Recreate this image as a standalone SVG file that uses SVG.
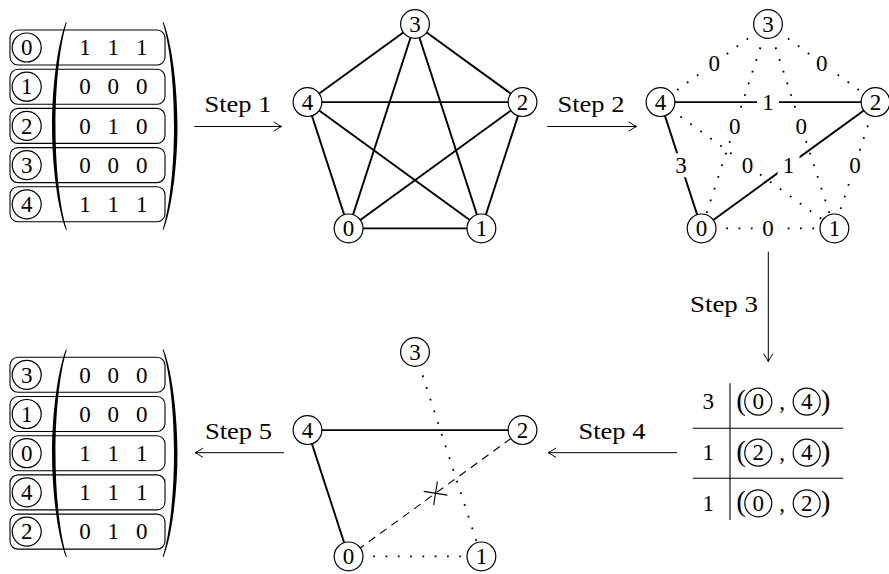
<svg xmlns="http://www.w3.org/2000/svg" width="889" height="574" viewBox="0 0 889 574">
<defs>
<style>
.t{font-family:"Liberation Serif","DejaVu Serif",serif;font-size:23px;text-anchor:middle;fill:#000}
.p{font-family:"Liberation Serif","DejaVu Serif",serif;font-size:29px;text-anchor:middle;fill:#000}
.n circle{fill:#fff;stroke:#000;stroke-width:1.2}
.row{fill:none;stroke:#000;stroke-width:1.1}
.e{stroke:#000;stroke-width:1.9;fill:none}
.d{stroke:#000;stroke-width:1.8;stroke-dasharray:1.8 10.5;fill:none}
.ds{stroke:#000;stroke-width:1.1;stroke-dasharray:8 6;fill:none}
.arr{stroke:#000;stroke-width:1;fill:none;marker-end:url(#to)}
.lb rect{fill:#fff;stroke:none}
.tl{stroke:#000;stroke-width:1.1}
.paren{fill:#000;stroke:none}
</style>
<marker id="to" viewBox="-10 -6 12 12" refX="0" refY="0" markerWidth="12" markerHeight="12" markerUnits="userSpaceOnUse" orient="auto">
<path d="M-8,-4.7 Q-2.5,-1 0,0 Q-2.5,1 -8,4.7" fill="none" stroke="#000" stroke-width="1"/>
</marker>
<path id="lparen" d="M66,-104 C57,-81 52,-36 52,0 C52,36 57,81 66,104 L66.8,103.5 C59,79 55.5,36 55.5,0 C55.5,-36 59,-79 66.8,-103.5 Z"/>
</defs>
<rect width="889" height="574" fill="#fff"/>

<!-- Matrix 1 -->
<g id="matrix1">
<use href="#lparen" class="paren" transform="translate(0,126)"/>
<use href="#lparen" class="paren" transform="translate(229.5,126) scale(-1,1)"/>
<g id="m1-r0" class="n"><rect class="row" x="10" y="30" width="155" height="35" rx="8"/><circle cx="26.7" cy="47.5" r="14.5"/><text class="t" x="26.7" y="55.2">0</text><text class="t" x="85" y="55.2">1</text><text class="t" x="113.3" y="55.2">1</text><text class="t" x="141.7" y="55.2">1</text></g>
<g id="m1-r1" class="n"><rect class="row" x="10" y="69.2" width="155" height="35" rx="8"/><circle cx="26.7" cy="86.7" r="14.5"/><text class="t" x="26.7" y="94.4">1</text><text class="t" x="85" y="94.4">0</text><text class="t" x="113.3" y="94.4">0</text><text class="t" x="141.7" y="94.4">0</text></g>
<g id="m1-r2" class="n"><rect class="row" x="10" y="108.4" width="155" height="35" rx="8"/><circle cx="26.7" cy="125.9" r="14.5"/><text class="t" x="26.7" y="133.6">2</text><text class="t" x="85" y="133.6">0</text><text class="t" x="113.3" y="133.6">1</text><text class="t" x="141.7" y="133.6">0</text></g>
<g id="m1-r3" class="n"><rect class="row" x="10" y="147.6" width="155" height="35" rx="8"/><circle cx="26.7" cy="165.1" r="14.5"/><text class="t" x="26.7" y="172.8">3</text><text class="t" x="85" y="172.8">0</text><text class="t" x="113.3" y="172.8">0</text><text class="t" x="141.7" y="172.8">0</text></g>
<g id="m1-r4" class="n"><rect class="row" x="10" y="186.8" width="155" height="35" rx="8"/><circle cx="26.7" cy="204.3" r="14.5"/><text class="t" x="26.7" y="212">4</text><text class="t" x="85" y="212">1</text><text class="t" x="113.3" y="212">1</text><text class="t" x="141.7" y="212">1</text></g>
</g>

<!-- Matrix 2 -->
<g id="matrix2">
<use href="#lparen" class="paren" transform="translate(0,453.2)"/>
<use href="#lparen" class="paren" transform="translate(229.5,453.2) scale(-1,1)"/>
<g id="m2-r0" class="n"><rect class="row" x="10" y="357.3" width="155" height="35" rx="8"/><circle cx="26.7" cy="374.8" r="14.5"/><text class="t" x="26.7" y="382.5">3</text><text class="t" x="85" y="382.5">0</text><text class="t" x="113.3" y="382.5">0</text><text class="t" x="141.7" y="382.5">0</text></g>
<g id="m2-r1" class="n"><rect class="row" x="10" y="396.5" width="155" height="35" rx="8"/><circle cx="26.7" cy="414" r="14.5"/><text class="t" x="26.7" y="421.7">1</text><text class="t" x="85" y="421.7">0</text><text class="t" x="113.3" y="421.7">0</text><text class="t" x="141.7" y="421.7">0</text></g>
<g id="m2-r2" class="n"><rect class="row" x="10" y="435.7" width="155" height="35" rx="8"/><circle cx="26.7" cy="453.2" r="14.5"/><text class="t" x="26.7" y="460.9">0</text><text class="t" x="85" y="460.9">1</text><text class="t" x="113.3" y="460.9">1</text><text class="t" x="141.7" y="460.9">1</text></g>
<g id="m2-r3" class="n"><rect class="row" x="10" y="474.9" width="155" height="35" rx="8"/><circle cx="26.7" cy="492.4" r="14.5"/><text class="t" x="26.7" y="500.1">4</text><text class="t" x="85" y="500.1">1</text><text class="t" x="113.3" y="500.1">1</text><text class="t" x="141.7" y="500.1">1</text></g>
<g id="m2-r4" class="n"><rect class="row" x="10" y="514.1" width="155" height="35" rx="8"/><circle cx="26.7" cy="531.6" r="14.5"/><text class="t" x="26.7" y="539.3">2</text><text class="t" x="85" y="539.3">0</text><text class="t" x="113.3" y="539.3">1</text><text class="t" x="141.7" y="539.3">0</text></g>
</g>

<!-- Connectors -->
<g id="connectors">
<line class="arr" x1="194.3" y1="126.5" x2="281.7" y2="126.5"/>
<line class="arr" x1="547.3" y1="126.5" x2="636.7" y2="126.5"/>
<line class="arr" x1="768.3" y1="251.7" x2="768.3" y2="361.7"/>
<line class="arr" x1="677" y1="452.7" x2="548" y2="452.7"/>
<line class="arr" x1="284" y1="452.7" x2="195" y2="452.7"/>
<!-- graph A (complete) -->
<line class="e" x1="415" y1="24" x2="307.5" y2="102.1"/>
<line class="e" x1="415" y1="24" x2="522.5" y2="102.1"/>
<line class="e" x1="415" y1="24" x2="348.6" y2="228.4"/>
<line class="e" x1="415" y1="24" x2="481.4" y2="228.4"/>
<line class="e" x1="307.5" y1="102.1" x2="522.5" y2="102.1"/>
<line class="e" x1="307.5" y1="102.1" x2="348.6" y2="228.4"/>
<line class="e" x1="307.5" y1="102.1" x2="481.4" y2="228.4"/>
<line class="e" x1="522.5" y1="102.1" x2="348.6" y2="228.4"/>
<line class="e" x1="522.5" y1="102.1" x2="481.4" y2="228.4"/>
<line class="e" x1="348.6" y1="228.4" x2="481.4" y2="228.4"/>
<!-- graph B (weighted) -->
<line class="d" x1="768" y1="24" x2="660.5" y2="102.1"/>
<line class="d" x1="768" y1="24" x2="875.5" y2="102.1"/>
<line class="d" x1="768" y1="24" x2="701.6" y2="228.4"/>
<line class="d" x1="768" y1="24" x2="834.4" y2="228.4"/>
<line class="d" x1="660.5" y1="102.1" x2="834.4" y2="228.4"/>
<line class="d" x1="875.5" y1="102.1" x2="834.4" y2="228.4"/>
<line class="d" x1="701.6" y1="228.4" x2="834.4" y2="228.4"/>
<line class="e" x1="660.5" y1="102.1" x2="875.5" y2="102.1"/>
<line class="e" x1="660.5" y1="102.1" x2="701.6" y2="228.4"/>
<line class="e" x1="875.5" y1="102.1" x2="701.6" y2="228.4"/>
<g class="lb">
<rect x="704.25" y="52.05" width="20" height="22"/><text class="t" x="714.25" y="70.75">0</text>
<rect x="811.75" y="52.05" width="20" height="22"/><text class="t" x="821.75" y="70.75">0</text>
<rect x="757" y="90.1" width="22" height="24"/><text class="t" x="768" y="109.8">1</text>
<rect x="724.8" y="115.2" width="20" height="22"/><text class="t" x="734.8" y="133.9">0</text>
<rect x="791.2" y="115.2" width="20" height="22"/><text class="t" x="801.2" y="133.9">0</text>
<rect x="670.05" y="153.25" width="22" height="24"/><text class="t" x="681.05" y="172.95">3</text>
<rect x="737.45" y="154.25" width="20" height="22"/><text class="t" x="747.45" y="172.95">0</text>
<rect x="777.55" y="153.25" width="22" height="24"/><text class="t" x="788.55" y="172.95">1</text>
<rect x="844.95" y="154.25" width="20" height="22"/><text class="t" x="854.95" y="172.95">0</text>
<rect x="758" y="217.4" width="20" height="22"/><text class="t" x="768" y="236.1">0</text>
</g>
<!-- graph C (result) -->
<line class="d" x1="415" y1="352" x2="481.4" y2="556.4"/>
<line class="d" x1="348.6" y1="556.4" x2="481.4" y2="556.4"/>
<line class="ds" x1="522.5" y1="430.1" x2="348.6" y2="556.4"/>
<line class="e" x1="307.5" y1="430.1" x2="522.5" y2="430.1"/>
<line class="e" x1="307.5" y1="430.1" x2="348.6" y2="556.4"/>
<path d="M423.7,491.4 L447.4,495.1 M437.4,481.4 L433.7,505.1" stroke="#000" stroke-width="1.1" fill="none"/>
</g>

<!-- Step labels -->
<g id="labels">
<text class="t" x="238" y="111.7" textLength="67" lengthAdjust="spacingAndGlyphs">Step 1</text>
<text class="t" x="591" y="111.7" textLength="67" lengthAdjust="spacingAndGlyphs">Step 2</text>
<text class="t" x="724" y="311.7" textLength="68" lengthAdjust="spacingAndGlyphs">Step 3</text>
<text class="t" x="612" y="439" textLength="67" lengthAdjust="spacingAndGlyphs">Step 4</text>
<text class="t" x="238.5" y="439.3" textLength="67" lengthAdjust="spacingAndGlyphs">Step 5</text>
</g>

<!-- Graph A nodes -->
<g id="a3" class="n"><circle cx="415" cy="24" r="14.4"/><text class="t" x="415" y="31.7">3</text></g>
<g id="a4" class="n"><circle cx="307.5" cy="102.1" r="14.4"/><text class="t" x="307.5" y="109.8">4</text></g>
<g id="a2" class="n"><circle cx="522.5" cy="102.1" r="14.4"/><text class="t" x="522.5" y="109.8">2</text></g>
<g id="a0" class="n"><circle cx="348.6" cy="228.4" r="14.4"/><text class="t" x="348.6" y="236.1">0</text></g>
<g id="a1" class="n"><circle cx="481.4" cy="228.4" r="14.4"/><text class="t" x="481.4" y="236.1">1</text></g>

<!-- Graph B nodes -->
<g id="b3" class="n"><circle cx="768" cy="24" r="14.4"/><text class="t" x="768" y="31.7">3</text></g>
<g id="b4" class="n"><circle cx="660.5" cy="102.1" r="14.4"/><text class="t" x="660.5" y="109.8">4</text></g>
<g id="b2" class="n"><circle cx="875.5" cy="102.1" r="14.4"/><text class="t" x="875.5" y="109.8">2</text></g>
<g id="b0" class="n"><circle cx="701.6" cy="228.4" r="14.4"/><text class="t" x="701.6" y="236.1">0</text></g>
<g id="b1" class="n"><circle cx="834.4" cy="228.4" r="14.4"/><text class="t" x="834.4" y="236.1">1</text></g>

<!-- Graph C nodes -->
<g id="c3" class="n"><circle cx="415" cy="352" r="14.4"/><text class="t" x="415" y="359.7">3</text></g>
<g id="c4" class="n"><circle cx="307.5" cy="430.1" r="14.4"/><text class="t" x="307.5" y="437.8">4</text></g>
<g id="c2" class="n"><circle cx="522.5" cy="430.1" r="14.4"/><text class="t" x="522.5" y="437.8">2</text></g>
<g id="c0" class="n"><circle cx="348.6" cy="556.4" r="14.4"/><text class="t" x="348.6" y="564.1">0</text></g>
<g id="c1" class="n"><circle cx="481.4" cy="556.4" r="14.4"/><text class="t" x="481.4" y="564.1">1</text></g>

<!-- Edge table -->
<g id="table">
<line class="tl" x1="730" y1="383.3" x2="730" y2="520"/>
<line class="tl" x1="692.7" y1="428.3" x2="843.3" y2="428.3"/>
<line class="tl" x1="692.7" y1="478.3" x2="843.3" y2="478.3"/>
<g id="t-r0" class="n">
<text class="t" x="708.3" y="409.4">3</text>
<text class="p" x="741" y="409.6">(</text>
<circle cx="758.3" cy="401.7" r="13.5"/><text class="t" x="758.3" y="409.4">0</text>
<text class="t" x="782" y="409.4">,</text>
<circle cx="806.7" cy="401.7" r="13.5"/><text class="t" x="806.7" y="409.4">4</text>
<text class="p" x="825.5" y="409.6">)</text>
</g>
<g id="t-r1" class="n">
<text class="t" x="708.3" y="460.4">1</text>
<text class="p" x="741" y="460.6">(</text>
<circle cx="758.3" cy="452.7" r="13.5"/><text class="t" x="758.3" y="460.4">2</text>
<text class="t" x="782" y="460.4">,</text>
<circle cx="806.7" cy="452.7" r="13.5"/><text class="t" x="806.7" y="460.4">4</text>
<text class="p" x="825.5" y="460.6">)</text>
</g>
<g id="t-r2" class="n">
<text class="t" x="708.3" y="511">1</text>
<text class="p" x="741" y="511.2">(</text>
<circle cx="758.3" cy="503.3" r="13.5"/><text class="t" x="758.3" y="511">0</text>
<text class="t" x="782" y="511">,</text>
<circle cx="806.7" cy="503.3" r="13.5"/><text class="t" x="806.7" y="511">2</text>
<text class="p" x="825.5" y="511.2">)</text>
</g>
</g>
</svg>
